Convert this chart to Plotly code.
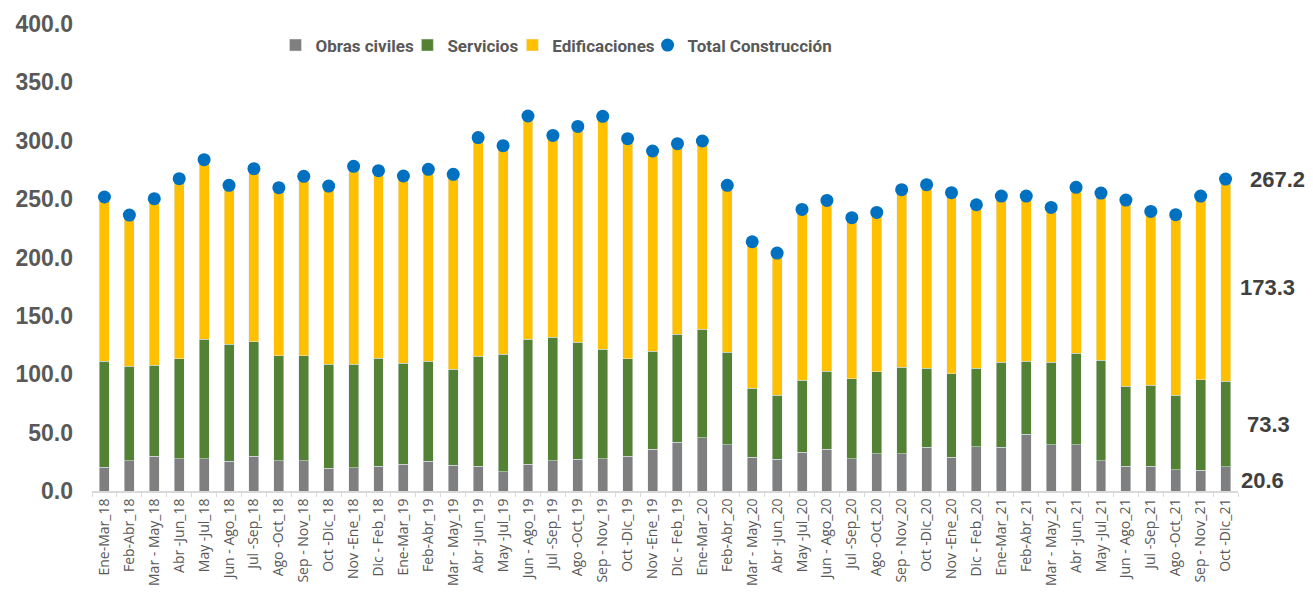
import plotly.graph_objects as go

periodos = [
    "Ene-Mar_18", "Feb-Abr_18", "Mar - May_18", "Abr -Jun_18", "May -Jul_18", "Jun - Ago_18",
    "Jul -Sep_18", "Ago -Oct_18", "Sep - Nov_18", "Oct -Dic_18", "Nov -Ene_18", "Dic - Feb_18",
    "Ene-Mar_19", "Feb-Abr_19", "Mar - May_19", "Abr -Jun_19", "May -Jul_19", "Jun - Ago_19",
    "Jul -Sep_19", "Ago -Oct_19", "Sep - Nov_19", "Oct -Dic_19", "Nov -Ene_19", "Dic - Feb_19",
    "Ene-Mar_20", "Feb-Abr_20", "Mar - May_20", "Abr -Jun_20", "May -Jul_20", "Jun - Ago_20",
    "Jul -Sep_20", "Ago -Oct_20", "Sep - Nov_20", "Oct -Dic_20", "Nov -Ene_20", "Dic - Feb_20",
    "Ene-Mar_21", "Feb-Abr_21", "Mar - May_21", "Abr -Jun_21", "May -Jul_21", "Jun - Ago_21",
    "Jul -Sep_21", "Ago -Oct_21", "Sep - Nov_21", "Oct -Dic_21",
]

obras_civiles = [
    20.4, 26.1, 29.6, 27.6, 27.8, 25.3, 29.8, 26.1, 26.1, 19.3, 20.1, 21.0,
    23.0, 25.3, 22.1, 21.0, 16.7, 23.0, 26.1, 27.0, 27.8, 29.8, 35.6, 41.6,
    45.8, 39.8, 29.0, 27.0, 33.0, 35.6, 27.8, 31.9, 31.9, 37.3, 28.7, 37.9,
    37.3, 48.4, 39.8, 39.8, 26.1, 21.0, 21.0, 18.4, 17.6, 20.6,
]

servicios = [
    90.6, 80.8, 77.9, 85.7, 102.0, 100.5, 98.1, 89.7, 89.7, 89.4, 88.6, 92.8,
    86.5, 85.9, 82.0, 94.5, 100.5, 107.1, 105.7, 100.5, 93.7, 83.5, 84.2, 92.8,
    92.6, 79.1, 59.1, 55.1, 61.7, 66.8, 68.3, 70.2, 74.2, 67.9, 71.7, 67.3,
    72.8, 62.6, 70.3, 78.0, 86.0, 68.8, 69.4, 63.7, 77.7, 73.3,
]

edificaciones = [
    140.8, 129.4, 142.9, 154.2, 154.0, 136.0, 148.2, 144.0, 153.7, 152.5, 169.4, 160.6,
    160.3, 164.3, 167.1, 187.2, 178.6, 191.1, 172.8, 184.8, 199.4, 188.5, 171.4, 163.1,
    161.4, 142.9, 125.4, 121.7, 146.5, 146.5, 138.0, 136.5, 152.0, 157.2, 155.1, 140.0,
    142.5, 141.6, 132.8, 142.3, 143.1, 159.4, 149.1, 154.6, 157.3, 173.3,
]

total = [round(a + b + c, 1) for a, b, c in zip(obras_civiles, servicios, edificaciones)]

GRIS = "#7f7f7f"
VERDE = "#548235"
AMARILLO = "#ffc000"
AZUL = "#0070c0"
TEXTO = "#595959"

fig = go.Figure()
fig.add_trace(go.Bar(x=periodos, y=obras_civiles, name="Obras civiles",
                     marker_color=GRIS, legend="legend"))
fig.add_trace(go.Bar(x=periodos, y=servicios, name="Servicios",
                     marker_color=VERDE, legend="legend2"))
fig.add_trace(go.Bar(x=periodos, y=edificaciones, name="Edificaciones",
                     marker_color=AMARILLO, legend="legend3"))
fig.add_trace(go.Scatter(
    x=periodos, y=total, name="Total Construcción", mode="markers",
    marker=dict(color=AZUL, size=13), legend="legend4",
))

# etiquetas del ultimo periodo, a la derecha de la barra
ult = periodos[-1]
o, s, e, t = obras_civiles[-1], servicios[-1], edificaciones[-1], total[-1]
etiquetas = [
    (t, f"{t:.1f}", 22, 0),
    (o + s + e / 2, f"{e:.1f}", 12, -7),
    (o + s / 2, f"{s:.1f}", 19, 0),
    (o / 2, f"{o:.1f}", 13, -2),
]
for yv, txt, dx, dy in etiquetas:
    fig.add_annotation(
        x=ult, y=yv, text=f"<b>{txt}</b>", showarrow=False,
        xanchor="left", yanchor="middle", xshift=dx, yshift=dy,
        font=dict(family="Liberation Sans, Arial", size=22, color="#404040"),
    )

# una leyenda por serie para acercar los elementos como en el original
leyenda_font = dict(family="Roboto, Liberation Sans, Arial", size=17, color=TEXTO, weight="bold")
leyendas = {}
for nombre, xpos in [("legend", 0.1601), ("legend2", 0.2752), ("legend3", 0.3668), ("legend4", 0.4848)]:
    leyendas[nombre] = dict(
        orientation="h", x=xpos, y=0.954, xanchor="left", yanchor="middle",
        font=leyenda_font, itemwidth=30, bgcolor="rgba(0,0,0,0)",
    )

fig.update_layout(
    barmode="stack",
    bargap=0.6,
    width=1313,
    height=603,
    margin=dict(l=92, r=75, t=24, b=112),
    plot_bgcolor="white",
    paper_bgcolor="white",
    showlegend=True,
    **leyendas,
    xaxis=dict(
        type="category",
        tickangle=-90,
        tickfont=dict(family="Open Sans, Arial", size=14, color=TEXTO),
        showline=True, linecolor="#d9d9d9", linewidth=2,
        ticks="outside", tickson="boundaries", ticklen=4, tickcolor="#d9d9d9",
        showgrid=False,
        range=[-0.5, len(periodos) - 0.5],
    ),
    yaxis=dict(
        range=[0, 400],
        tickvals=[0, 50, 100, 150, 200, 250, 300, 350, 400],
        tickformat=".1f",
        tickfont=dict(family="Liberation Sans, Arial", size=23, color=TEXTO, weight="bold"),
        showgrid=False, zeroline=False, showline=False,
        ticklabelstandoff=18,
    ),
)

fig.write_html("out.html", config={"displayModeBar": False},
               post_script="document.body.style.margin='0';")
